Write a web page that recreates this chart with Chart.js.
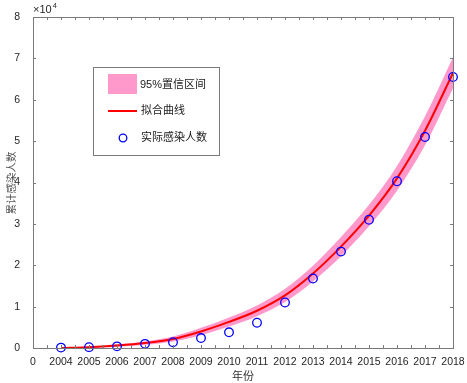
<!DOCTYPE html>
<html><head><meta charset="utf-8">
<script src="https://cdn.jsdelivr.net/npm/chart.js@4/dist/chart.umd.min.js"></script>
<style>html,body{margin:0;padding:0;background:#fff}#wrap{width:467px;height:383px}</style>
</head><body><div id="wrap"><canvas id="c" width="467" height="383"></canvas></div>
<script>
// values in units of 10^4
const years = [2004,2005,2006,2007,2008,2009,2010,2011,2012,2013,2014,2015,2016,2017,2018];
const actual = [0.01,0.02,0.04,0.10,0.14,0.24,0.38,0.61,1.10,1.68,2.33,3.10,4.03,5.10,6.55];
const fit    = [0.00,0.02,0.06,0.12,0.22,0.40,0.63,0.90,1.27,1.80,2.45,3.20,4.10,5.25,6.65];
const lower  = [0.00,0.00,0.03,0.08,0.16,0.31,0.52,0.77,1.11,1.61,2.22,2.94,3.80,4.90,6.28];
const upper  = [0.01,0.04,0.09,0.16,0.28,0.49,0.74,1.03,1.43,1.99,2.68,3.46,4.40,5.60,7.03];
const xTickLabels = {2003:'0'};
const legendLabels = ['95%置信区间','拟合曲线','实际感染人数'];
const xTitle = '年份', yTitle = '累计感染人数';

const pts = arr => years.map((y,i)=>({x:y,y:arr[i]}));
const PINK = 'rgb(255,153,204)';
const AXC = '#7a7a7a';
const TXT = '#262626';

const framePlugin = {
  id:'frame',
  afterDatasetsDraw(chart){
    const {ctx, chartArea:a, scales:{x,y}} = chart;
    ctx.save();
    ctx.strokeStyle = AXC; ctx.lineWidth = 1;
    ctx.strokeRect(Math.round(a.left)+0.5, Math.round(a.top)+0.5, Math.round(a.right-a.left), Math.round(a.bottom-a.top));
    const L = 3;
    ctx.beginPath();
    for (let v = x.min; v <= x.max+1e-9; v += 0.5){
      const px = Math.round(x.getPixelForValue(v))+0.5;
      ctx.moveTo(px,a.bottom); ctx.lineTo(px,a.bottom-L);
      ctx.moveTo(px,a.top); ctx.lineTo(px,a.top+L);
    }
    for (let v = y.min; v <= y.max+1e-9; v += 1){
      const py = Math.round(y.getPixelForValue(v))+0.5;
      ctx.moveTo(a.left,py); ctx.lineTo(a.left+L,py);
      ctx.moveTo(a.right,py); ctx.lineTo(a.right-L,py);
    }
    ctx.stroke();
    // x10^4
    ctx.fillStyle = TXT;
    ctx.font = '11px "Liberation Sans", Arial, sans-serif';
    ctx.textBaseline = 'alphabetic'; ctx.textAlign='left';
    const t = '\u00d710';
    ctx.fillText(t, a.left, a.top-4);
    const w = ctx.measureText(t).width;
    ctx.font = '7.5px "Liberation Sans", Arial, sans-serif';
    ctx.fillText('4', a.left+w+1, a.top-9);
    // axis titles
    ctx.fillStyle = '#333';
    ctx.font = '11px "Noto Sans CJK SC", sans-serif';
    ctx.textAlign='center'; ctx.textBaseline='middle';
    ctx.fillText(xTitle, (a.left+a.right)/2, 376);
    ctx.save();
    ctx.translate(11, 183); ctx.rotate(-Math.PI/2);
    ctx.font = '10.5px "Noto Sans CJK SC", sans-serif';
    ctx.fillStyle = '#555';
    ctx.fillText(yTitle, 0, 0);
    ctx.restore();
    // legend
    ctx.textAlign='left';
    const bx=93, by=67, bw=126, bh=88;
    ctx.fillStyle='#fff'; ctx.fillRect(bx,by,bw,bh);
    ctx.strokeStyle='#7a7a7a'; ctx.lineWidth=1;
    ctx.strokeRect(bx+0.5,by+0.5,bw,bh);
    ctx.fillStyle=PINK; ctx.fillRect(108,74,29,20);
    ctx.strokeStyle='#ff0000'; ctx.lineWidth=2;
    ctx.beginPath(); ctx.moveTo(108,111); ctx.lineTo(137,111); ctx.stroke();
    ctx.strokeStyle='#0000ff'; ctx.lineWidth=1.3;
    ctx.beginPath(); ctx.arc(123,138,3.8,0,Math.PI*2); ctx.stroke();
    ctx.fillStyle='#1a1a1a';
    ctx.font='11px "Liberation Sans", "Noto Sans CJK SC", sans-serif';
    ctx.textBaseline='middle';
    ctx.fillText(legendLabels[0],140,85);
    ctx.fillText(legendLabels[1],141,111);
    ctx.fillText(legendLabels[2],141,138);
    ctx.restore();
  }
};

new Chart(document.getElementById('c'),{
  type:'line',
  data:{datasets:[
    {label:'lower', data:pts(lower), borderWidth:0, pointRadius:0, fill:false, cubicInterpolationMode:'monotone', order:3, borderColor:'rgba(0,0,0,0)'},
    {label:legendLabels[0], data:pts(upper), borderWidth:0, pointRadius:0, fill:'-1', backgroundColor:PINK, cubicInterpolationMode:'monotone', order:2, borderColor:'rgba(0,0,0,0)'},
    {label:legendLabels[1], data:pts(fit), borderColor:'#ff0000', borderWidth:2, pointRadius:0, fill:false, cubicInterpolationMode:'monotone', order:1},
    {label:legendLabels[2], data:pts(actual), showLine:false, pointRadius:4.3, pointBorderColor:'#0000ff', pointBackgroundColor:'rgba(0,0,0,0)', pointBorderWidth:1.3, order:0, clip:false}
  ]},
  options:{
    responsive:false, animation:false,
    layout:{padding:{left:0,top:17,right:14,bottom:0}},
    plugins:{legend:{display:false}, tooltip:{enabled:false}},
    scales:{
      x:{type:'linear', min:2003, max:2018,
        afterFit(s){s.height=35;},
        grid:{display:false}, border:{display:false},
        ticks:{stepSize:1, padding:0, color:TXT, maxRotation:0, autoSkip:false,
          font:{family:'"Liberation Sans", Arial, sans-serif', size:10.5},
          callback:v=> xTickLabels[v]!==undefined ? xTickLabels[v] : String(v)}
      },
      y:{type:'linear', min:0, max:8,
        afterFit(s){s.width=33;},
        grid:{display:false}, border:{display:false},
        ticks:{stepSize:1, padding:5, color:TXT, font:{family:'"Liberation Sans", Arial, sans-serif', size:10.5}}
      }
    }
  },
  plugins:[framePlugin]
});
</script></body></html>
